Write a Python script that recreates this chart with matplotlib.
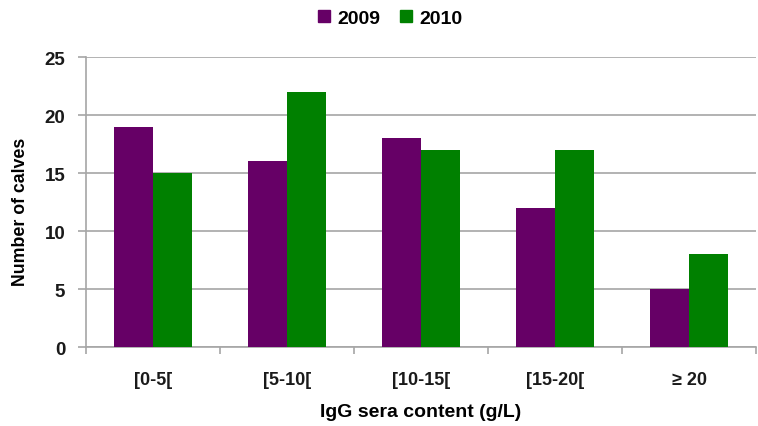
import matplotlib.pyplot as plt
import numpy as np
from matplotlib.patches import Patch

plt.rcParams['font.family'] = ['Liberation Sans', 'DejaVu Sans']

categories = ['[0-5[', '[5-10[', '[10-15[', '[15-20[', '\u2265 20']
calves_2009 = [19, 16, 18, 12, 5]
calves_2010 = [15, 22, 17, 17, 8]

PURPLE = '#660066'
GREEN = '#008000'
GRID = '#a6a6a6'

fig = plt.figure(figsize=(7.58, 4.27), dpi=100)
ax = fig.add_axes([0.1135, 0.185, 0.884, 0.679])

x = np.arange(len(categories))
w = 0.29
ax.bar(x - w / 2, calves_2009, w, color=PURPLE, label='2009', zorder=3)
ax.bar(x + w / 2, calves_2010, w, color=GREEN, label='2010', zorder=3)

ax.set_xlim(-0.5, len(categories) - 0.5)
ax.set_ylim(0, 25)
ax.set_yticks(range(0, 26, 5))
ax.yaxis.grid(True, color=GRID, linewidth=1.2, zorder=0)

# category labels centred, tick marks on the boundaries
ax.set_xticks(x)
ax.set_xticklabels(categories, fontsize=13, fontweight='bold', color='#1a1a1a')
ax.set_xticks(np.arange(-0.5, len(categories)), minor=True)
ax.tick_params(axis='x', which='major', length=0, pad=17)
ax.tick_params(axis='x', which='minor', length=5, color=GRID, width=1.2)
ax.tick_params(axis='y', length=6, color=GRID, width=1.2, pad=9,
               labelsize=13.5, labelcolor='#1a1a1a')
for lbl in ax.get_yticklabels():
    lbl.set_fontweight('bold')

for side in ['top', 'right']:
    ax.spines[side].set_visible(False)
for side in ['left', 'bottom']:
    ax.spines[side].set_color(GRID)
    ax.spines[side].set_linewidth(1.2)

ax.set_ylabel('Number of calves', fontsize=12.8, fontweight='bold')
ax.yaxis.set_label_coords(-0.085, 0.47)
ax.set_xlabel('IgG sera content (g/L)', fontsize=14, fontweight='bold', labelpad=11)

handles = [Patch(color=PURPLE, label='2009'), Patch(color=GREEN, label='2010')]
fig.legend(handles=handles, loc='center', bbox_to_anchor=(0.515, 0.955), ncol=2,
           frameon=False, handlelength=0.6, handleheight=0.6, handletextpad=0.4,
           columnspacing=1.0, prop={'size': 14, 'weight': 'bold'})

fig.savefig('out.png', dpi=100)
